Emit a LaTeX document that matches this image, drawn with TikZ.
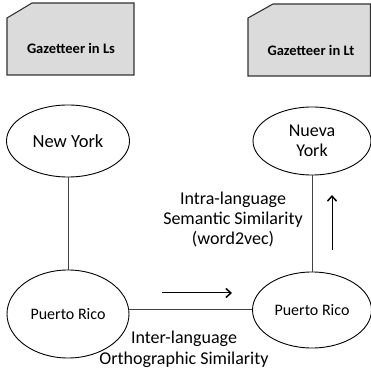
\documentclass[tikz,border=0pt]{standalone}
\usepackage{fontspec}
\setmainfont{Carlito}
\usetikzlibrary{shapes.geometric,arrows.meta}

\tikzset{
	gazbox/.style={draw=black!80, line width=1.1pt, fill=black!14, line join=miter},
	gaztext/.style={font=\bfseries\fontsize{14.5}{16}\selectfont},
	place/.style={ellipse, draw, line width=0.9pt, inner sep=0pt, align=center},
	link/.style={draw=black!75, line width=1pt},
	dir/.style={line width=1pt, -{Straight Barb[length=5pt,width=9pt,line width=1.5pt]}}
}

\begin{document}
\begin{tikzpicture}[x=1pt,y=1pt]
	\useasboundingbox (0,0) rectangle (371,377);
	\draw[gazbox] (7,302) -- (134,302) -- (134,374) -- (32,374) -- (7,359) -- cycle;
	\draw[gazbox] (248,301) -- (370.5,301) -- (370.5,373) -- (273,373) -- (248,359) -- cycle;
	\node[gaztext] (gzs) at (71,329) {Gazetteer in Ls};
	\node[gaztext] (gzt) at (311,327) {Gazetteer in Lt};

	\node[place, minimum width=123pt, minimum height=72pt, font=\fontsize{18.5}{20}\selectfont] (nys) at (68,236) {New York};
	\node[place, minimum width=118pt, minimum height=68pt, font=\fontsize{18}{20}\selectfont] (nyt) at (312,236) {Nueva\\York};
	\node[place, minimum width=122pt, minimum height=88pt, font=\fontsize{16}{18}\selectfont] (prs) at (68,63) {Puerto Rico};
	\node[place, minimum width=119pt, minimum height=76pt, font=\fontsize{16}{18}\selectfont] (prt) at (312,67) {Puerto Rico};

	\draw[link] (nys) -- (prs);
	\draw[link] (nyt) -- (prt);
	\draw[link] (prt.west) -- (prt.west -| prs.east);

	\coordinate (hs) at (162,84);
	\coordinate (he) at (232,84);
	\coordinate (vs) at (332,127);
	\coordinate (ve) at (332,182);
	\draw[dir] (hs) -- (he);
	\draw[dir] (vs) -- (ve);

	\node[align=center, font=\fontsize{18}{20}\selectfont] (intra) at (233,157) {Intra-language\\Semantic Similarity\\(word2vec)};
	\node[align=center, font=\fontsize{18}{21}\selectfont] (inter) at (184,28) {Inter-language\\Orthographic Similarity};
\end{tikzpicture}
\end{document}
